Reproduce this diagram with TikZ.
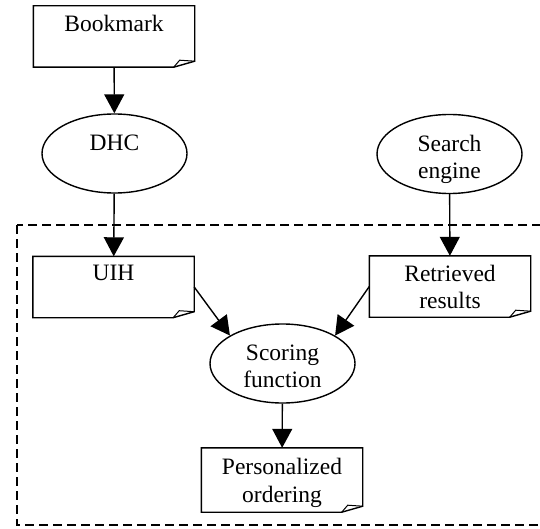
\documentclass[tikz,border=0pt]{standalone}
\usepackage{fontspec}
\setmainfont{Liberation Serif}
\usetikzlibrary{shapes.geometric, arrows.meta}
\newcommand{\doctext}[1]{\parbox[c][43pt][t]{140pt}{\centering #1}}
\newcommand{\proctext}[1]{\parbox[c][38pt][t]{100pt}{\centering #1}}
\tikzset{
    doc/.style={minimum width=161pt, minimum height=61pt, inner sep=0pt},
    proc/.style={ellipse, draw, line width=1.4pt, minimum width=145pt,
        minimum height=79pt, inner sep=0pt},
    flow/.style={-{Triangle[length=19pt, width=20pt]}, line width=1.4pt},
    frame/.style={line width=1.2pt, dash pattern=on 9pt off 5pt},
}

\begin{document}
\begin{tikzpicture}[x=1pt, y=-1pt, font=\fontsize{23.5}{27.5}\selectfont]
            \useasboundingbox (0, 0) rectangle (540, 529);
            \draw[frame] (17, 225) rectangle (560, 525);
            \node[doc] (bookmark) at (114, 36.5) {\doctext{Bookmark}};
            \node[proc] (dhc) at (114.5, 153.5) {\proctext{DHC}};
            \node[proc] (search) at (449.5, 154) {\proctext{Search\\engine}};
            \node[doc] (uih) at (113.5, 287) {\doctext{UIH}};
            \node[doc] (results) at (450, 286.5) {\doctext{Retrieved\\results}};
            \node[proc] (scoring) at (282.5, 363.5) {\proctext{Scoring\\function}};
            \node[doc, minimum height=64pt] (order) at (282, 480)
                {\doctext{Personalized\\ordering}};
            \foreach \n in {bookmark, uih, results, order} {
                \draw[line width=1.4pt] (\n.north west) -- (\n.north east)
                    -- ([yshift=6pt]\n.south east) -- ([xshift=-21pt]\n.south east)
                    -- (\n.south west) -- cycle;
                \draw[line width=1pt] ([xshift=-21pt]\n.south east)
                    -- ([xshift=-15pt, yshift=7pt]\n.south east)
                    -- ([yshift=6pt]\n.south east);
            }
            \draw[flow] (bookmark) -- (dhc);
            \draw[flow] (dhc) -- (uih);
            \draw[flow] (search) -- (results);
            \draw[flow] (uih.east) -- (scoring.152);
            \draw[flow] (results.west) -- (scoring.28);
            \draw[flow] (scoring) -- (order);
        \end{tikzpicture}
\end{document}
